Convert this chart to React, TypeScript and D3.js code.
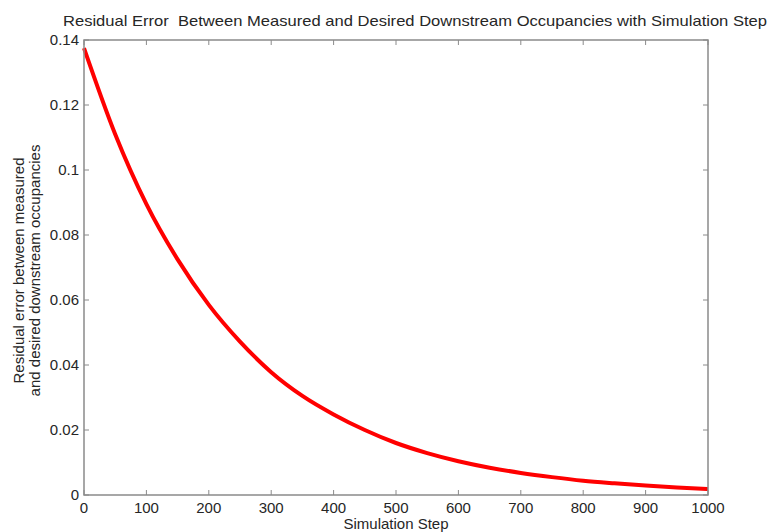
import React, { useEffect, useRef } from "react";
import * as d3 from "d3";

// values
const steps = [0, 50, 100, 150, 200, 250, 300, 350, 400, 450, 500, 550, 600, 650, 700, 750, 800, 850, 900, 950, 1000];
const residual = [0.1375, 0.111, 0.0895, 0.0725, 0.0585, 0.0472, 0.0378, 0.0305, 0.0248, 0.02, 0.016, 0.0129, 0.0104, 0.0084, 0.0068, 0.0055, 0.0044, 0.0036, 0.0029, 0.0023, 0.0018];
const xTicks = [0, 100, 200, 300, 400, 500, 600, 700, 800, 900, 1000];
const yTicks = [0, 0.02, 0.04, 0.06, 0.08, 0.1, 0.12, 0.14];

const W = 770, H = 532;
const margin = { top: 40, right: 62, bottom: 37, left: 84 };

export default function App() {
  const ref = useRef<SVGSVGElement>(null);

  useEffect(() => {
    const svg = d3.select(ref.current);
    svg.selectAll("*").remove();

    const w = W - margin.left - margin.right;
    const h = H - margin.top - margin.bottom;
    const font = "'Liberation Sans', Arial, sans-serif";
    const axisCol = "#8a8a8a";
    const textCol = "#262626";

    const x = d3.scaleLinear().domain([0, 1000]).range([0, w]);
    const y = d3.scaleLinear().domain([0, 0.14]).range([h, 0]);

    const g = svg.append("g").attr("transform", `translate(${margin.left},${margin.top})`);

    const data = steps.map((s, i) => [s, residual[i]] as [number, number]);
    const line = d3.line<[number, number]>()
      .x((d) => x(d[0]))
      .y((d) => y(d[1]))
      .curve(d3.curveMonotoneX);

    g.append("path")
      .datum(data)
      .attr("d", line)
      .attr("fill", "none")
      .attr("stroke", "#ff0000")
      .attr("stroke-width", 4);

    // box
    g.append("rect")
      .attr("width", w).attr("height", h)
      .attr("fill", "none").attr("stroke", axisCol).attr("stroke-width", 1.5);

    const tl = 5;
    // x ticks, bottom and top, pointing inward
    xTicks.forEach((t) => {
      g.append("line").attr("x1", x(t)).attr("x2", x(t)).attr("y1", h).attr("y2", h - tl).attr("stroke", axisCol);
      g.append("line").attr("x1", x(t)).attr("x2", x(t)).attr("y1", 0).attr("y2", tl).attr("stroke", axisCol);
      g.append("text")
        .attr("x", x(t)).attr("y", h + 18)
        .attr("text-anchor", "middle")
        .attr("font-family", font).attr("font-size", 15).attr("fill", textCol)
        .text(String(t));
    });
    yTicks.forEach((t) => {
      g.append("line").attr("x1", 0).attr("x2", tl).attr("y1", y(t)).attr("y2", y(t)).attr("stroke", axisCol);
      g.append("line").attr("x1", w).attr("x2", w - tl).attr("y1", y(t)).attr("y2", y(t)).attr("stroke", axisCol);
      g.append("text")
        .attr("x", -5).attr("y", y(t) + 5)
        .attr("text-anchor", "end")
        .attr("font-family", font).attr("font-size", 15).attr("fill", textCol)
        .text(String(t));
    });

    // title
    svg.append("text")
      .attr("x", 415).attr("y", 26)
      .attr("text-anchor", "middle")
      .attr("font-family", font).attr("font-size", 15).attr("fill", textCol)
      .attr("textLength", 704).attr("lengthAdjust", "spacingAndGlyphs")
      .style("white-space", "pre")
      .text("Residual Error  Between Measured and Desired Downstream Occupancies with Simulation Step");

    // x label
    svg.append("text")
      .attr("x", margin.left + w / 2).attr("y", 529)
      .attr("text-anchor", "middle")
      .attr("font-family", font).attr("font-size", 15).attr("fill", textCol)
      .text("Simulation Step");

    // y label, two lines
    const yl = svg.append("text")
      .attr("transform", `translate(24,${margin.top + h / 2 + 3}) rotate(-90)`)
      .attr("text-anchor", "middle")
      .attr("font-family", font).attr("font-size", 15).attr("fill", textCol);
    yl.append("tspan").attr("x", 0).attr("dy", 0).text("Residual error between measured");
    yl.append("tspan").attr("x", 0).attr("dy", 16).text("and desired downstream occupancies");
  }, []);

  return <svg ref={ref} width={W} height={H} style={{ position: "absolute", left: 0, top: 0, background: "#fff" }} />;
}
